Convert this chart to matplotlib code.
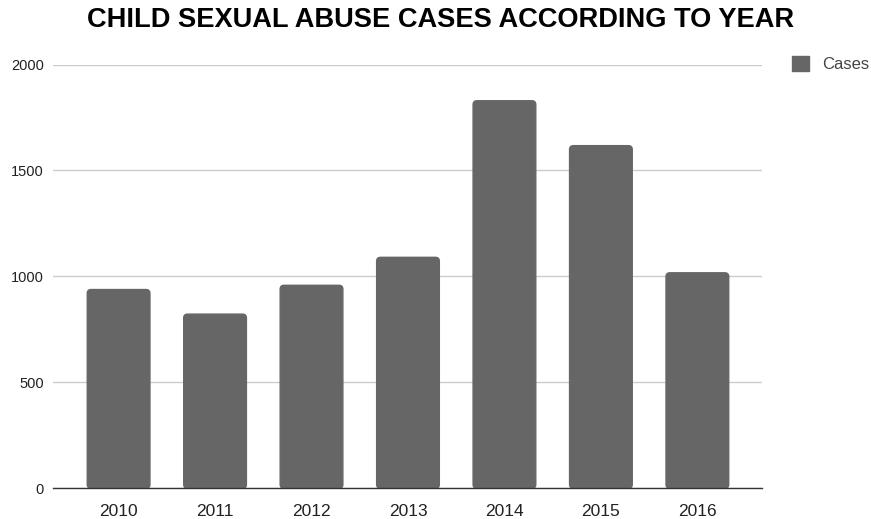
import matplotlib
matplotlib.use("Agg")
import matplotlib.pyplot as plt
from matplotlib.patches import FancyBboxPatch, Patch

years = ["2010", "2011", "2012", "2013", "2014", "2015", "2016"]
cases = [938, 822, 958, 1090, 1829, 1617, 1017]

plt.rcParams['font.family'] = ['Liberation Sans', 'DejaVu Sans']

fig = plt.figure(figsize=(8.71, 5.19), dpi=100)
ax = fig.add_axes([53/871, 1 - 488.3/519, (762 - 53)/871, (488.3 - 64.5)/519])

bars = ax.bar(range(len(years)), cases, width=0.65, color="#666666", zorder=3, label="Cases")
# round top corners
for b in bars:
    x, y = b.get_x(), b.get_y()
    w, h = b.get_width(), b.get_height()
    b.set_visible(False)
    p = FancyBboxPatch((x, y), w, h, boxstyle="round,pad=0,rounding_size=0.04",
                       mutation_aspect=2000/424*96.5, color="#666666", zorder=3)
    ax.add_patch(p)

ax.set_xlim(-0.68, 6.67)
ax.set_ylim(0, 2000)
ax.set_yticks([0, 500, 1000, 1500, 2000])
ax.set_xticks(range(len(years)))
ax.set_xticklabels(years)
ax.yaxis.grid(True, color="#cccccc", linewidth=1, zorder=0)
ax.set_axisbelow(True)
for s in ["top", "right", "left"]:
    ax.spines[s].set_visible(False)
ax.spines["bottom"].set_color("#333333")
ax.spines["bottom"].set_linewidth(1)
ax.spines["bottom"].set_zorder(4)
ax.tick_params(axis="both", length=0, colors="#222222")
ax.tick_params(axis="y", pad=6.5, labelsize=10.5)
ax.tick_params(axis="x", pad=11, labelsize=12.5)

fig.text(441/871, 1 - 20/519, "CHILD SEXUAL ABUSE CASES ACCORDING TO YEAR",
         ha="center", va="center", fontsize=19.6, fontweight="bold", color="#000000")

fig.legend(handles=[Patch(color="#666666", label="Cases")], loc="center left",
           bbox_to_anchor=(792/871, 1 - 64/519), frameon=False, fontsize=12,
           labelcolor="#444444", handlelength=1.0, handleheight=1.0, handletextpad=0.8,
           borderpad=0, borderaxespad=0)

fig.savefig("out.png", dpi=100)
